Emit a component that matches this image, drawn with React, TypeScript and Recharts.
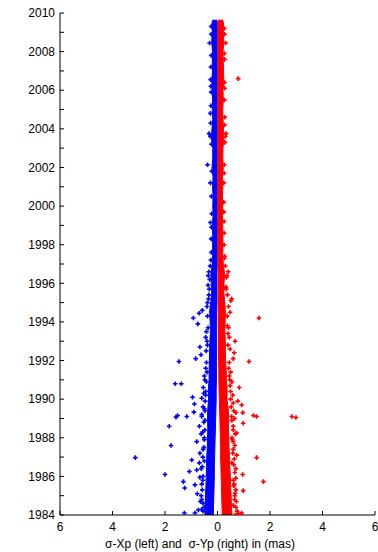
import React from 'react';
import { ComposedChart, Area, Scatter, XAxis, YAxis } from 'recharts';

// Dense core band (per half-year): outer / inner edges of the bulk of the points
const bandYears = [
  2009.65, 2009.5, 2009.0, 2008.5, 2008.0, 2007.5, 2007.0, 2006.5, 2006.0, 2005.5,
  2005.0, 2004.5, 2004.0, 2003.5, 2003.0, 2002.5, 2002.0, 2001.5, 2001.0, 2000.5,
  2000.0, 1999.5, 1999.0, 1998.5, 1998.0, 1997.5, 1997.0, 1996.5, 1996.0, 1995.5,
  1995.0, 1994.5, 1994.0, 1993.5, 1993.0, 1992.5, 1992.0, 1991.5, 1991.0, 1990.5,
  1990.0, 1989.5, 1989.0, 1988.5, 1988.0, 1987.5, 1987.0, 1986.5, 1986.0, 1985.5,
  1985.0, 1984.5, 1984.0,
];
const blueOuter = [
  -0.17, -0.21, -0.2, -0.22, -0.19, -0.2, -0.19, -0.22, -0.2, -0.19,
  -0.2, -0.18, -0.21, -0.23, -0.18, -0.18, -0.21, -0.17, -0.19, -0.17,
  -0.18, -0.17, -0.2, -0.18, -0.19, -0.18, -0.2, -0.25, -0.24, -0.22,
  -0.26, -0.3, -0.28, -0.27, -0.29, -0.3, -0.31, -0.32, -0.32, -0.35,
  -0.34, -0.37, -0.38, -0.37, -0.38, -0.39, -0.41, -0.42, -0.43, -0.44,
  -0.46, -0.47, -0.48,
];
const blueInner = [
  -0.03, -0.01, -0.01, -0.01, -0.01, -0.01, -0.01, -0.01, -0.01, -0.01,
  -0.01, -0.01, -0.01, -0.01, -0.01, -0.01, -0.01, -0.01, -0.01, -0.01,
  -0.01, -0.01, -0.01, -0.01, -0.01, -0.01, -0.01, -0.02, -0.02, -0.02,
  -0.02, -0.03, -0.03, -0.03, -0.03, -0.03, -0.04, -0.04, -0.04, -0.05,
  -0.05, -0.06, -0.07, -0.08, -0.09, -0.1, -0.11, -0.12, -0.12, -0.13,
  -0.14, -0.15, -0.16,
];
const redInner = [
  0.03, 0.02, 0.02, 0.02, 0.02, 0.02, 0.02, 0.02, 0.02, 0.02,
  0.02, 0.02, 0.02, 0.02, 0.02, 0.02, 0.02, 0.02, 0.02, 0.02,
  0.02, 0.02, 0.02, 0.02, 0.02, 0.02, 0.02, 0.03, 0.03, 0.03,
  0.03, 0.03, 0.03, 0.04, 0.04, 0.04, 0.04, 0.05, 0.05, 0.06,
  0.07, 0.08, 0.09, 0.1, 0.11, 0.12, 0.12, 0.13, 0.14, 0.15,
  0.16, 0.17, 0.18,
];
const redOuter = [
  0.19, 0.23, 0.22, 0.24, 0.21, 0.22, 0.23, 0.24, 0.21, 0.22,
  0.2, 0.21, 0.23, 0.24, 0.21, 0.2, 0.22, 0.19, 0.2, 0.19,
  0.2, 0.19, 0.2, 0.2, 0.21, 0.2, 0.22, 0.27, 0.25, 0.24,
  0.28, 0.3, 0.29, 0.28, 0.3, 0.3, 0.31, 0.33, 0.34, 0.37,
  0.36, 0.41, 0.43, 0.42, 0.43, 0.44, 0.46, 0.47, 0.49, 0.5,
  0.52, 0.53, 0.55,
];

// Scattered points away from the core: sigma-Xp (plotted on the left, negative side)
const blueYears = [
  2009.3, 2008.45, 2007.2, 2006.55, 2005.9, 2005.2, 2004.8, 2003.75, 2003.6, 2002.14,
  2001.2, 2000.5, 1999.15, 1998.3, 1997.6, 1996.6, 1996.2, 1995.9, 1995.4, 1995.0,
  1994.6, 1994.45, 1994.2, 1993.9, 1993.5, 1993.2, 1992.7, 1992.3, 1992.1, 1991.95,
  1991.6, 1991.2, 1990.8, 1990.8, 1990.6, 1990.4, 1990.1, 1990.05, 1989.75, 1989.5,
  1989.33, 1989.15, 1989.1, 1989.07, 1989.1, 1988.9, 1988.6, 1988.6, 1988.3, 1988.0,
  1987.8, 1987.6, 1987.4, 1987.2, 1986.97, 1986.85, 1986.7, 1986.5, 1986.33, 1986.25,
  1986.1, 1985.95, 1985.8, 1985.73, 1985.56, 1985.4, 1985.1, 1984.8, 1984.6, 1984.4,
  1984.26, 1984.1, 1984.1,
  1996.9, 1996.4, 1995.7, 1995.2, 1994.8, 1994.3, 1993.7, 1993.0, 1992.8, 1992.5,
  1991.9, 1991.4, 1991.0, 1990.9, 1990.3, 1990.2, 1989.9, 1989.6, 1989.4, 1989.2,
  1988.8, 1988.4, 1988.2, 1987.9, 1987.5, 1987.0, 1986.8, 1986.4, 1986.0, 1985.6,
  1985.3, 1985.0, 1984.7, 1984.3, 1984.2,
  2008.9, 2007.8, 2006.2, 2004.3, 2003.2, 2001.8, 1999.6, 1998.9, 1997.2,
];
const blueValues = [
  -0.24, -0.3, -0.25, -0.26, -0.24, -0.25, -0.27, -0.32, -0.27, -0.38,
  -0.27, -0.23, -0.27, -0.24, -0.23, -0.33, -0.3, -0.36, -0.33, -0.38,
  -0.58, -0.7, -0.92, -0.75, -0.42, -0.45, -0.67, -0.63, -0.83, -1.47,
  -0.45, -0.5, -1.61, -1.38, -0.54, -0.45, -0.95, -0.6, -0.88, -0.5,
  -0.9, -1.52, -1.17, -1.58, -0.6, -0.48, -1.84, -0.69, -0.56, -0.5,
  -0.79, -1.77, -0.55, -0.67, -3.13, -0.98, -0.69, -0.58, -0.79, -1.07,
  -2.0, -0.67, -0.56, -1.3, -0.86, -1.25, -0.77, -0.6, -0.55, -0.5,
  -0.73, -1.26, -0.86,
  -0.28, -0.35, -0.31, -0.34, -0.4, -0.38, -0.36, -0.4, -0.38, -0.43,
  -0.42, -0.4, -0.48, -0.42, -0.52, -0.45, -0.47, -0.55, -0.48, -0.6,
  -0.52, -0.48, -0.62, -0.5, -0.52, -0.56, -0.5, -0.62, -0.55, -0.6,
  -0.58, -0.62, -0.65, -0.6, -0.55,
  -0.24, -0.24, -0.25, -0.26, -0.23, -0.22, -0.22, -0.23, -0.25,
];

// Scattered points away from the core: sigma-Yp (plotted on the right)
const redYears = [
  2009.2, 2008.45, 2007.6, 2006.6, 2006.4, 2005.5, 2004.6, 2003.75, 2003.6, 2002.14,
  2001.2, 2000.2, 1999.2, 1998.0, 1997.3, 1996.6, 1996.3, 1995.8, 1995.2, 1995.1,
  1994.5, 1994.2, 1993.8, 1993.4, 1993.0, 1992.4, 1992.1, 1991.95, 1991.6, 1991.2,
  1990.7, 1990.6, 1990.4, 1989.9, 1989.7, 1989.3, 1989.3, 1989.15, 1989.1, 1989.1,
  1989.05, 1989.1, 1988.75, 1988.6, 1988.25, 1988.0, 1987.8, 1987.4, 1987.1, 1986.97,
  1986.7, 1986.4, 1986.1, 1985.8, 1985.73, 1985.5, 1985.26, 1985.13, 1984.8, 1984.5,
  1984.1, 1984.06, 1984.0,
  1996.9, 1996.4, 1995.7, 1995.4, 1994.8, 1994.3, 1993.7, 1993.2, 1992.8, 1992.6,
  1991.9, 1991.4, 1991.0, 1990.9, 1990.2, 1990.0, 1989.8, 1989.6, 1989.4, 1989.0,
  1988.9, 1988.4, 1988.2, 1987.9, 1987.6, 1987.2, 1986.9, 1986.6, 1986.2, 1985.9,
  1985.6, 1985.3, 1985.0, 1984.7, 1984.4, 1984.2, 1984.05,
  2008.9, 2007.9, 2006.1, 2004.2, 2003.3, 2001.7, 1999.7, 1998.6, 1997.4,
];
const redValues = [
  0.26, 0.31, 0.27, 0.79, 0.27, 0.26, 0.28, 0.33, 0.3, 0.26,
  0.24, 0.24, 0.25, 0.25, 0.26, 0.41, 0.34, 0.32, 0.54, 0.51,
  0.48, 1.58, 0.38, 0.4, 0.67, 0.64, 0.6, 1.2, 0.42, 0.45,
  0.48, 0.83, 0.5, 0.77, 0.92, 0.96, 0.7, 1.37, 1.49, 2.83,
  2.99, 0.54, 0.98, 0.6, 0.73, 0.55, 0.6, 0.6, 0.73, 1.49,
  0.55, 0.7, 0.96, 0.6, 1.75, 0.62, 0.98, 0.67, 0.65, 0.6,
  0.92, 0.79, 0.67,
  0.3, 0.36, 0.33, 0.38, 0.42, 0.37, 0.42, 0.45, 0.4, 0.48,
  0.45, 0.5, 0.47, 0.55, 0.58, 0.5, 0.6, 0.52, 0.62, 0.65,
  0.55, 0.6, 0.68, 0.57, 0.66, 0.58, 0.64, 0.62, 0.66, 0.7,
  0.64, 0.7, 0.66, 0.72, 0.7, 0.75, 0.9,
  0.27, 0.26, 0.27, 0.27, 0.28, 0.25, 0.24, 0.25, 0.27,
];

const xTicks = [-6, -4, -2, 0, 2, 4, 6];
const yTicks = [
  1984, 1985, 1986, 1987, 1988, 1989, 1990, 1991, 1992, 1993, 1994, 1995, 1996,
  1997, 1998, 1999, 2000, 2001, 2002, 2003, 2004, 2005, 2006, 2007, 2008, 2009, 2010,
];
const xLabel = 'σ-Xp (left) and  σ-Yp (right) in (mas)';

const BLUE = '#0000ff';
const RED = '#ff0000';
const FONT = '"Liberation Sans", Arial, Helvetica, sans-serif';

const bandRows = bandYears.map((year, i) => ({
  year,
  blue: [blueOuter[i], blueInner[i]],
  red: [redInner[i], redOuter[i]],
}));
const bluePoints = blueYears.map((year, i) => ({ year, x: blueValues[i] }));
const redPoints = redYears.map((year, i) => ({ year, x: redValues[i] }));

const plus = (color: string) => (props: any) => {
  const { cx, cy } = props;
  if (cx == null || cy == null) return <g />;
  const r = 2.3;
  return (
    <path
      d={`M${cx - r},${cy}H${cx + r}M${cx},${cy - r}V${cy + r}`}
      stroke={color}
      strokeWidth={1.6}
      fill="none"
    />
  );
};

export default function App() {
  return (
    <div
      style={{
        position: 'absolute',
        left: 0,
        top: 0,
        width: 378,
        height: 552,
        background: '#fff',
        overflow: 'hidden',
      }}
    >
      <ComposedChart
        width={378}
        height={552}
        layout="vertical"
        data={bandRows}
        margin={{ top: 13, right: 3, bottom: 0, left: 0 }}
      >
        <XAxis
          type="number"
          domain={[-6, 6]}
          ticks={xTicks}
          interval={0}
          height={37}
          tickSize={-4}
          tickMargin={11}
          tickFormatter={(v: number) => String(Math.abs(v))}
          axisLine={{ stroke: '#000' }}
          tickLine={{ stroke: '#000' }}
          tick={{ fill: '#000', fontSize: 12, fontFamily: FONT }}
          allowDataOverflow
        />
        <YAxis
          type="number"
          dataKey="year"
          domain={[1984, 2010]}
          reversed
          ticks={yTicks}
          interval={0}
          width={60}
          tickSize={-4}
          tickMargin={9}
          tickFormatter={(v: number) => (v % 2 === 0 ? String(v) : '')}
          axisLine={{ stroke: '#000' }}
          tickLine={{ stroke: '#000' }}
          tick={{ fill: '#000', fontSize: 12, fontFamily: FONT }}
          allowDataOverflow
        />
        <Area
          dataKey="blue"
          type="linear"
          stroke={BLUE}
          strokeWidth={1}
          fill={BLUE}
          fillOpacity={1}
          isAnimationActive={false}
          dot={false}
          activeDot={false}
        />
        <Area
          dataKey="red"
          type="linear"
          stroke={RED}
          strokeWidth={1}
          fill={RED}
          fillOpacity={1}
          isAnimationActive={false}
          dot={false}
          activeDot={false}
        />
        <Scatter data={bluePoints} dataKey="x" shape={plus(BLUE)} isAnimationActive={false} />
        <Scatter data={redPoints} dataKey="x" shape={plus(RED)} isAnimationActive={false} />
        <text
          x={105}
          y={548}
          fontSize={12}
          fontFamily={FONT}
          fill="#000"
          style={{ whiteSpace: 'pre' }}
        >
          {xLabel}
        </text>
      </ComposedChart>
    </div>
  );
}
